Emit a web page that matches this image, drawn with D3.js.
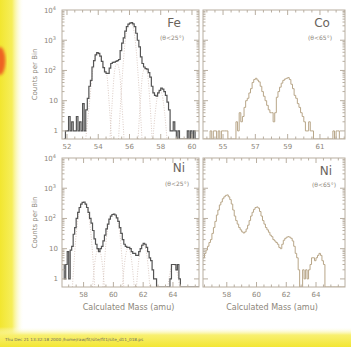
<!DOCTYPE html>
<html><head><meta charset="utf-8">
<script src="https://cdn.jsdelivr.net/npm/d3@7"></script>
<style>body{margin:0;background:#fff}svg{display:block}text{font-family:"DejaVu Sans",sans-serif}</style>
</head><body><svg id="c" width="351" height="347"></svg>
<script>
// ---------------- data ----------------
const binWidth = 0.1;
const yTickValues = [1, 10, 100, 1000, 10000];
const yTickLabels = ["1", "10", "10|2", "10|3", "10|4"];

const feStart = 51.8;
const feCounts = [0,1,1,3,1,2,1,1,3,1,2,1,8,1,5,12,30,47,130,210,330,390,370,300,200,125,90,80,80,120,170,185,190,200,210,230,450,800,1200,2000,2800,3400,3700,3800,3500,2800,1700,1000,600,280,170,130,115,110,85,60,30,18,15,14,18,22,26,24,20,15,9,5,1,1,2,1,0,1,0,0,0,0,0,1,0,1,0,1,0,0,0];
const feXTicks = [52, 54, 56, 58, 60];
const feFits = [
  [[53.2,0.5],[53.45,10],[53.65,100],[53.9,390],[54.15,250],[54.4,110],[54.55,70],[54.7,8],[54.85,0.5]],
  [[54.75,0.5],[54.9,10],[55.05,100],[55.2,170],[55.35,100],[55.5,10],[55.65,0.5]],
  [[55.3,0.5],[55.5,30],[55.7,700],[55.9,3000],[56.05,3600],[56.2,3000],[56.4,700],[56.6,30],[56.8,0.5]],
  [[56.55,0.5],[56.7,10],[56.85,80],[57.0,120],[57.15,80],[57.3,10],[57.45,0.5]],
  [[57.5,0.5],[57.65,4],[57.8,15],[57.95,22],[58.1,15],[58.25,4],[58.4,0.5]]
];

const coStart = 53.8;
const coCounts = [0,0,0,0,1,0,1,1,0,1,0,1,1,1,1,0,0,0,0,0,2,1,4,2,3,6,10,12,18,25,40,50,55,48,42,30,20,14,10,7,5,4,4,2,4,13,20,28,38,47,52,55,58,50,35,25,15,12,8,6,4,3,2,1,1,2,1,1,0,0,0,0,0,0,0,0,0,0,0,0,1,0,1,1,0,0,0];
const coXTicks = [55, 57, 59, 61];

const niAStart = 56.6;
const niACounts = [3,1,3,8,1,9,12,30,50,100,160,230,300,340,350,300,230,160,100,70,40,21,14,10,8,10,12,18,28,45,65,95,120,135,140,130,105,80,50,32,20,14,12,11,11,10,8,7,7,6,6,8,10,13,15,14,11,8,5,4,2,1,1,0,0,0,0,0,0,0,0,0,1,3,3,3,2,3,1,0,0,0,0,0,0,0,0,0,0,0,0,0];
const niXTicks = [58, 60, 62, 64];
const niAFits = [
  [[57.25,0.5],[57.45,15],[57.65,120],[57.85,300],[58.0,340],[58.15,300],[58.35,120],[58.55,15],[58.75,0.5]],
  [[58.6,0.5],[58.8,5],[59.0,10],[59.2,5],[59.4,0.5]],
  [[59.3,0.5],[59.5,15],[59.7,80],[59.85,120],[60.0,135],[60.15,120],[60.3,80],[60.5,15],[60.7,0.5]],
  [[60.6,0.5],[60.8,5],[61.0,11],[61.2,5],[61.4,0.5]],
  [[61.55,0.5],[61.75,6],[62.0,15],[62.25,6],[62.45,0.5]],
  [[63.65,0.5],[63.85,2],[64.05,3],[64.25,2],[64.45,0.5]]
];

const niBStart = 56.4;
const niBCounts = [5,7,9,12,16,20,32,50,80,130,190,280,350,450,520,580,600,520,420,300,190,120,85,65,50,42,36,33,36,45,60,85,120,160,200,230,240,220,170,120,85,65,50,42,35,28,25,20,18,16,14,11,10,14,19,22,24,25,24,22,18,12,7,5,2,0,0,2,1,2,1,2,3,5,5,4,5,6,7,6,4,3,0,0,0,0,0,0,0,0,0,0,0,0,0,0];

// ---------------- drawing ----------------
const svg = d3.select("#c");
const defs = svg.append("defs");
const gl = defs.append("linearGradient").attr("id","gl").attr("x1",0).attr("x2",1).attr("y1",0).attr("y2",0);
gl.append("stop").attr("offset",0).attr("stop-color","#f2e630");
gl.append("stop").attr("offset",0.5).attr("stop-color","#f6ee5a");
gl.append("stop").attr("offset",1).attr("stop-color","#ffffff").attr("stop-opacity",0);
const gb = defs.append("linearGradient").attr("id","gb").attr("x1",0).attr("x2",0).attr("y1",0).attr("y2",1);
gb.append("stop").attr("offset",0).attr("stop-color","#ffffff").attr("stop-opacity",0);
gb.append("stop").attr("offset",0.4).attr("stop-color","#f8f070");
gb.append("stop").attr("offset",1).attr("stop-color","#f2e634");
defs.append("filter").attr("id","bl").append("feGaussianBlur").attr("stdDeviation",1.6);

svg.append("rect").attr("x",0).attr("y",0).attr("width",24).attr("height",347).attr("fill","url(#gl)");
svg.append("rect").attr("x",0).attr("y",327).attr("width",351).attr("height",20).attr("fill","url(#gb)");
svg.append("ellipse").attr("cx",0).attr("cy",61).attr("rx",5.5).attr("ry",14).attr("fill","#ee6420").attr("filter","url(#bl)");

const frameColor = "#b8aea0";
const textColor = "#8c867a";

const panels = [
  {x0:62, x1:199, y0:10, y1:139, dom:[51.68,60.45], start:feStart, counts:feCounts, fits:feFits, ticks:feXTicks, col:"#545454", sw:1.2, title:"Fe", sub:"(\u03b8<25\u00b0)", tx:174, ty:27, sy:40, ylab:true},
  {x0:203, x1:345, y0:10, y1:139, dom:[53.76,62.55], start:coStart, counts:coCounts, fits:[], ticks:coXTicks, col:"#b8a688", sw:1, title:"Co", sub:"(\u03b8<65\u00b0)", tx:322, ty:27, sy:40, ylab:false},
  {x0:62, x1:199, y0:158, y1:287, dom:[56.55,65.75], start:niAStart, counts:niACounts, fits:niAFits, ticks:niXTicks, col:"#545454", sw:1.2, title:"Ni", sub:"(\u03b8<25\u00b0)", tx:179, ty:172, sy:186, ylab:true},
  {x0:203, x1:345, y0:158, y1:287, dom:[56.4,65.95], start:niBStart, counts:niBCounts, fits:[], ticks:niXTicks, col:"#b8a688", sw:1, title:"Ni", sub:"(\u03b8<65\u00b0)", tx:326, ty:175, sy:187, ylab:false}
];

panels.forEach((p, k) => {
  const x = d3.scaleLinear().domain(p.dom).range([p.x0, p.x1]);
  const y = d3.scaleLog().domain([0.54, 10000]).range([p.y1, p.y0]);
  const g = svg.append("g");
  const cid = "clip" + k;
  defs.append("clipPath").attr("id", cid).append("rect")
    .attr("x", p.x0).attr("y", p.y0).attr("width", p.x1 - p.x0).attr("height", p.y1 - p.y0);

  // fits (dotted)
  const fitLine = d3.line().x(d => x(d[0])).y(d => y(Math.max(d[1], 0.54))).curve(d3.curveMonotoneX);
  p.fits.forEach(f => {
    g.append("path").attr("d", fitLine(f)).attr("fill","none").attr("stroke","#d8c6be")
      .attr("stroke-width",0.9).attr("stroke-dasharray","1,1.5").attr("clip-path",`url(#${cid})`);
  });

  // histogram
  const pts = p.counts.map((v, i) => [p.start + i * binWidth, v]);
  pts.push([p.start + p.counts.length * binWidth, p.counts[p.counts.length - 1]]);
  const hist = d3.line().x(d => x(d[0])).y(d => y(Math.max(d[1], 0.54))).curve(d3.curveStepAfter);
  g.append("path").attr("d", hist(pts)).attr("fill","none").attr("stroke", p.col)
    .attr("stroke-width", p.sw).attr("clip-path",`url(#${cid})`);

  // frame
  g.append("rect").attr("x", p.x0).attr("y", p.y0).attr("width", p.x1 - p.x0).attr("height", p.y1 - p.y0)
    .attr("fill","none").attr("stroke", frameColor).attr("stroke-width",1);

  // x ticks (major + minor) on bottom and top
  const minor = d3.range(Math.ceil(p.dom[0] * 2) / 2, p.dom[1], 0.5);
  minor.forEach(v => {
    const isMajor = Math.abs(v - Math.round(v)) < 1e-6 && ((Math.round(v) - p.ticks[0]) % 2 === 0);
    const L = isMajor ? 5 : 2.5;
    g.append("line").attr("x1", x(v)).attr("x2", x(v)).attr("y1", p.y1).attr("y2", p.y1 - L).attr("stroke", frameColor);
    g.append("line").attr("x1", x(v)).attr("x2", x(v)).attr("y1", p.y0).attr("y2", p.y0 + L).attr("stroke", frameColor);
  });
  p.ticks.forEach(v => {
    g.append("text").attr("x", x(v)).attr("y", p.y1 + 10).attr("text-anchor","middle")
      .attr("font-size", 7).attr("fill", textColor).text(v);
  });

  // y ticks on left and right
  for (let e = 0; e < 4; e++) {
    for (let m = 1; m < 10; m++) {
      const v = m * Math.pow(10, e);
      const L = m === 1 ? 5 : 2.5;
      g.append("line").attr("x1", p.x0).attr("x2", p.x0 + L).attr("y1", y(v)).attr("y2", y(v)).attr("stroke", frameColor);
      g.append("line").attr("x1", p.x1).attr("x2", p.x1 - L).attr("y1", y(v)).attr("y2", y(v)).attr("stroke", frameColor);
    }
  }
  if (p.ylab) {
    yTickValues.forEach((v, i) => {
      const parts = yTickLabels[i].split("|");
      const t = g.append("text").attr("x", p.x0 - (parts.length > 1 ? 6 : 4)).attr("y", y(v) + 2.5)
        .attr("text-anchor","end").attr("font-size", 7).attr("fill", textColor);
      t.append("tspan").text(parts[0]);
      if (parts.length > 1) t.append("tspan").attr("font-size", 5).attr("dy", -3).text(parts[1]);
    });
    g.append("text").attr("transform", `translate(37,${(p.y0 + p.y1) / 2}) rotate(-90)`)
      .attr("text-anchor","middle").attr("font-size", 7).attr("fill", textColor).text("Counts per Bin");
  }
  if (k >= 2) {
    g.append("text").attr("x", (p.x0 + p.x1) / 2 - 2).attr("y", 310).attr("text-anchor","middle")
      .attr("font-size", 8).attr("fill", textColor).text("Calculated Mass (amu)");
  }

  // titles
  g.append("text").attr("x", p.tx).attr("y", p.ty).attr("text-anchor","middle")
    .attr("font-size", 12).attr("fill", "#6a645c").text(p.title);
  g.append("text").attr("x", p.tx - 2).attr("y", p.sy).attr("text-anchor","middle")
    .attr("font-size", 6).attr("fill", textColor).text(p.sub);
});

svg.append("text").attr("x", 5).attr("y", 341).attr("font-size", 4.2).attr("fill", "#6c6a60")
  .text("Thu Dec 21 13:32:18 2000     /home/raw/fit/site/fit1/site_d11_018.ps");
</script></body></html>
